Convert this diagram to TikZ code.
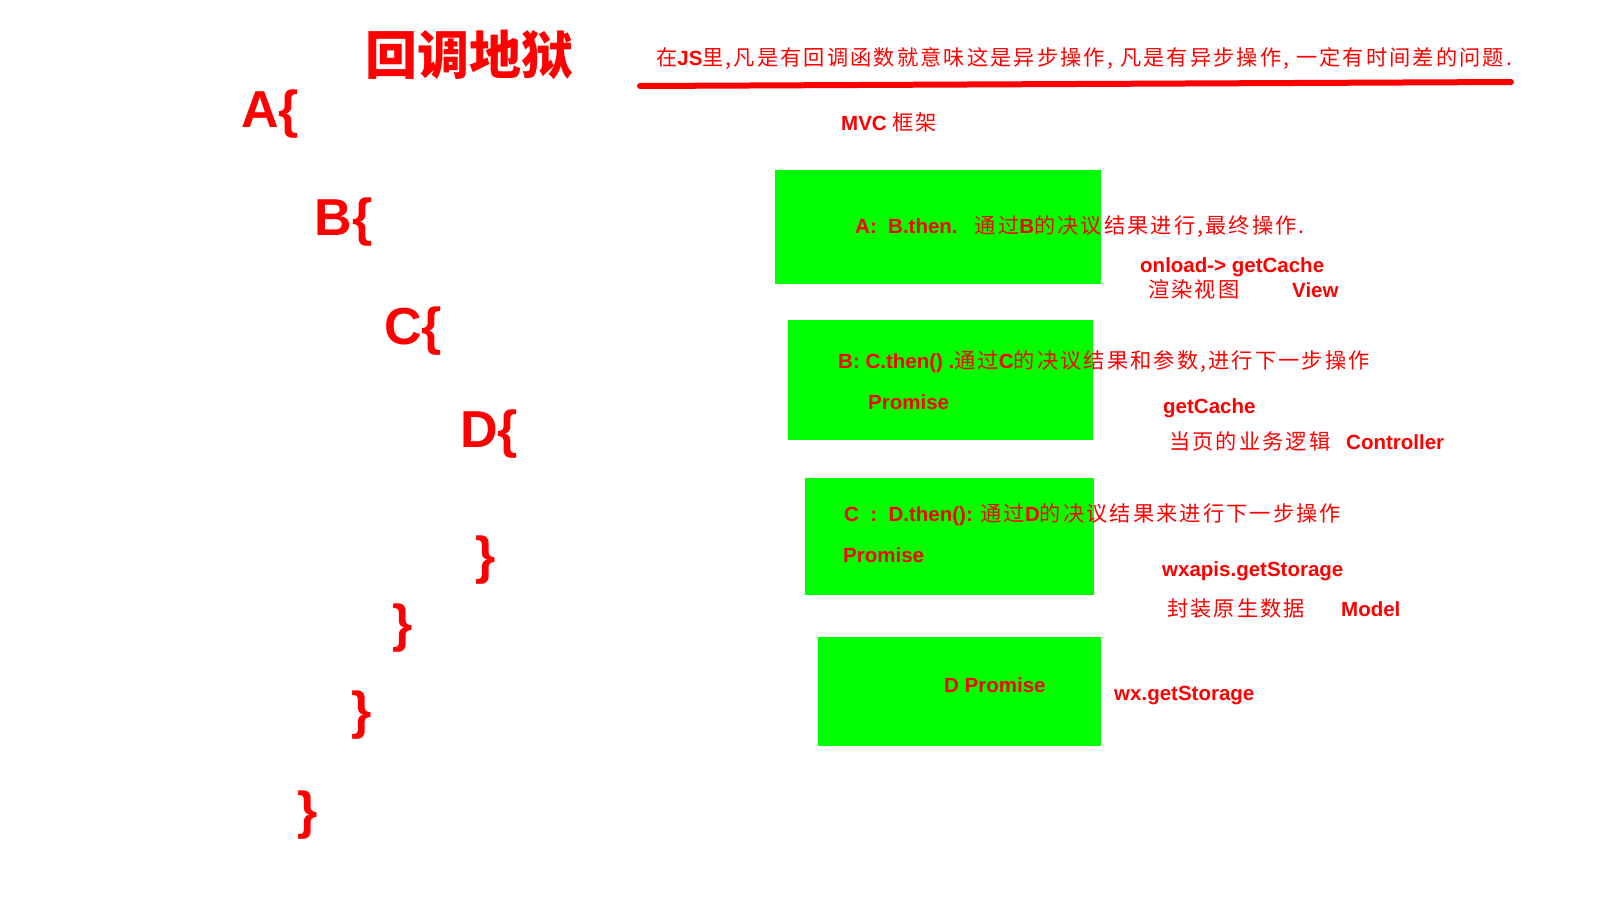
\documentclass[tikz,border=0pt]{standalone}
\usepackage{fontspec}
\setmainfont{Liberation Sans}
\newfontfamily\cjk[LetterSpace=10,Scale=1.035]{Noto Sans CJK SC}
\newfontfamily\cjkhead{Noto Sans CJK SC}
\usetikzlibrary{positioning}
\definecolor{ink}{HTML}{FF0000}
\definecolor{promise}{HTML}{00FF00}
\newcommand{\zh}[1]{{\cjk\mdseries #1}}
\tikzset{
  every node/.style={text=ink,inner sep=0pt},
  head/.style={font=\cjkhead\bfseries\fontsize{52}{56}\selectfont},
  level/.style={font=\bfseries\fontsize{52}{56}\selectfont},
  lbl/.style={font=\bfseries\fontsize{20.5}{24}\selectfont,anchor=base west},
  promisebox/.style={fill=promise,anchor=north west},
  underline/.style={draw=ink,line width=6pt,line cap=round},
}
\begin{document}
\begin{tikzpicture}[x=1pt,y=-1pt]
\useasboundingbox[fill=white] (0,0) rectangle (1600,900);
\node[head] (title) at (469,54.5) {回调地狱};
\node[level] (la) at (270,114.5) {A\{};
\node[level] (lb) at (343.5,222) {B\{};
\node[level] (lc) at (413,331) {C\{};
\node[level] (ld) at (489,434.5) {D\{};
\node[level] (rd) at (486,560.5) {\}};
\node[level] (rc) at (403,628.5) {\}};
\node[level] (rb) at (362,715.5) {\}};
\node[level] (ra) at (307.5,815) {\}};
\node[lbl] (rule) at (656,65.5) {\zh{在}JS\zh{里,凡是有回调函数就意味这是异步操作, 凡是有异步操作, 一定有时间差的问题.}};
\coordinate (ul) at (640,86); \coordinate (ur) at (1511,82);
\draw[underline] (ul) -- (ur);
\node[lbl] (mvc) at (841,130) {MVC \zh{框架}};
\node[promisebox,minimum width=326pt,minimum height=114pt] (a) at (775,170) {};
\node[promisebox,minimum width=305pt,minimum height=120pt] (b) at (788,320) {};
\node[promisebox,minimum width=289pt,minimum height=117pt] (c) at (805,478) {};
\node[promisebox,minimum width=283pt,minimum height=109pt] (d) at (818,637) {};
\node[lbl] (athen) at (855,233.5) {A:\ \ B.then.\ \ \ \zh{通过}B\zh{的决议结果进行,最终操作.}};
\node[lbl] (onload) at (1140,272.5) {onload-> getCache};
\node[lbl] (render) at (1148,297) {\zh{渲染视图}};
\node[lbl] (view) at (1292,297) {View};
\node[lbl] (bthen) at (838,368) {B: C.then() .\zh{通过}C\zh{的决议结果和参数,进行下一步操作}};
\node[lbl] (bp) at (868,409.5) {Promise};
\node[lbl] (cache) at (1163,413) {getCache};
\node[lbl] (logic) at (1169,449.5) {\zh{当页的业务逻辑}};
\node[lbl] (ctrl) at (1346,449.5) {Controller};
\node[lbl] (cthen) at (844,521.5) {C\ \ :\ \ D.then(): \zh{通过}D\zh{的决议结果来进行下一步操作}};
\node[lbl] (cp) at (843,562.5) {Promise};
\node[lbl] (wxapis) at (1162,576) {wxapis.getStorage};
\node[lbl] (raw) at (1167,616.5) {\zh{封装原生数据}};
\node[lbl] (model) at (1341,616.5) {Model};
\node[lbl] (dp) at (944,692) {D Promise};
\node[lbl] (wx) at (1114,700) {wx.getStorage};
\end{tikzpicture}
\end{document}
